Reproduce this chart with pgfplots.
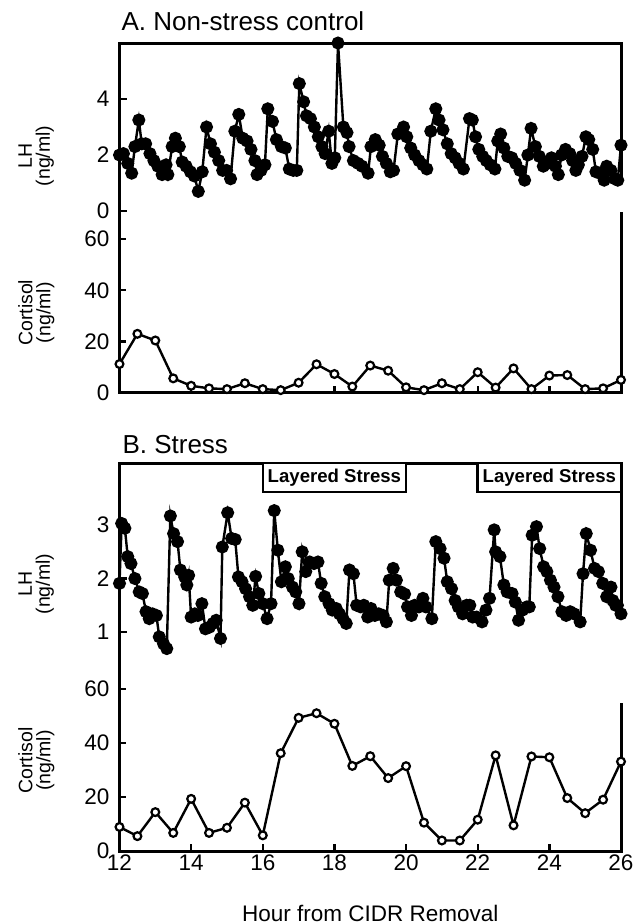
\documentclass[border=0pt]{standalone}
\usepackage{fontspec}
\setmainfont{Liberation Sans}
\usepackage{pgfplots}
\usepackage{pgfplotstable}
\pgfplotsset{compat=1.18}

% LH, panel A (non-stress control)
\pgfplotstableread{
x y
12.00 2.00
12.11 2.05
12.23 1.70
12.34 1.35
12.43 2.30
12.54 3.25
12.62 2.40
12.73 2.40
12.85 2.05
12.96 1.80
13.07 1.60
13.19 1.30
13.30 1.65
13.35 1.30
13.47 2.30
13.56 2.60
13.67 2.30
13.75 1.75
13.86 1.60
13.98 1.40
14.09 1.25
14.20 0.70
14.31 1.40
14.43 3.00
14.54 2.40
14.65 2.10
14.77 1.80
14.88 1.45
14.99 1.45
15.10 1.15
15.22 2.85
15.33 3.45
15.44 2.60
15.56 2.50
15.67 2.20
15.78 1.80
15.84 1.30
15.95 1.45
16.06 1.65
16.14 3.65
16.27 3.20
16.38 2.55
16.52 2.30
16.63 2.25
16.74 1.50
16.85 1.45
16.95 1.45
17.02 4.55
17.14 3.90
17.22 3.40
17.33 3.30
17.44 3.00
17.55 2.65
17.65 2.30
17.74 2.05
17.84 2.85
17.93 1.70
18.01 1.90
18.10 6.00
18.25 3.00
18.35 2.80
18.41 2.30
18.53 1.80
18.66 1.70
18.77 1.60
18.94 1.35
19.02 2.30
19.14 2.55
19.25 2.35
19.34 1.95
19.45 1.70
19.56 1.40
19.65 1.45
19.77 2.75
19.93 3.00
20.02 2.65
20.13 2.25
20.24 2.00
20.36 1.80
20.47 1.65
20.58 1.50
20.69 2.85
20.83 3.65
20.92 3.25
21.03 2.90
21.15 2.40
21.26 2.05
21.37 1.90
21.48 1.70
21.60 1.50
21.77 3.30
21.85 3.25
21.94 2.65
22.03 2.20
22.14 1.95
22.24 1.80
22.35 1.65
22.48 1.50
22.56 2.50
22.64 2.75
22.73 2.25
22.84 1.95
22.95 1.90
23.06 1.70
23.18 1.45
23.31 1.10
23.40 2.00
23.49 2.95
23.61 2.30
23.72 1.95
23.83 1.60
23.95 1.70
24.06 1.90
24.17 1.60
24.25 1.30
24.34 2.00
24.45 2.20
24.57 2.05
24.65 1.80
24.74 1.45
24.81 1.65
24.91 1.95
25.02 2.65
25.10 2.55
25.21 2.20
25.30 1.40
25.41 1.35
25.53 1.10
25.60 1.60
25.72 1.45
25.83 1.15
25.91 1.10
26.00 2.35
}\lhA

% cortisol, panel A
\pgfplotstableread{
x y
12.0 11.2
12.5 23.0
13.0 20.4
13.5 5.6
14.0 2.7
14.5 1.7
15.0 1.4
15.5 3.7
16.0 1.4
16.5 1.0
17.0 3.9
17.5 11.1
18.0 7.3
18.5 2.4
19.0 10.6
19.5 8.6
20.0 2.1
20.5 1.0
21.0 3.7
21.5 1.4
22.0 8.0
22.5 2.0
23.0 9.5
23.5 1.4
24.0 6.7
24.5 6.9
25.0 1.4
25.5 1.7
26.0 5.0
}\coA

% LH, panel B (stress)
\pgfplotstableread{
x y
12.00 1.91
12.06 3.03
12.15 2.94
12.23 2.41
12.32 2.28
12.43 2.00
12.55 1.75
12.64 1.72
12.74 1.38
12.83 1.25
12.92 1.34
13.03 1.31
13.11 0.91
13.23 0.78
13.32 0.69
13.42 3.17
13.51 2.84
13.62 2.69
13.70 2.16
13.82 2.03
13.88 1.88
13.93 2.06
14.00 1.28
14.10 1.34
14.19 1.31
14.30 1.53
14.40 1.06
14.51 1.09
14.61 1.16
14.70 1.22
14.82 0.88
14.87 2.59
15.02 3.23
15.13 2.75
15.23 2.73
15.32 2.03
15.42 1.94
15.52 1.81
15.63 1.66
15.72 1.50
15.80 2.04
15.89 1.72
16.00 1.53
16.12 1.25
16.23 1.53
16.32 3.27
16.42 2.53
16.52 1.94
16.63 2.22
16.71 2.00
16.83 1.84
16.92 1.75
17.01 1.53
17.10 2.50
17.20 2.13
17.31 2.31
17.43 2.28
17.54 2.31
17.63 1.91
17.73 1.66
17.85 1.53
17.94 1.41
18.05 1.44
18.14 1.34
18.24 1.25
18.33 1.16
18.42 2.16
18.53 2.09
18.62 1.50
18.73 1.47
18.82 1.50
18.93 1.28
19.02 1.44
19.13 1.31
19.24 1.34
19.36 1.31
19.45 1.19
19.53 1.97
19.64 2.19
19.73 1.97
19.85 1.75
19.96 1.71
20.04 1.47
20.15 1.31
20.24 1.50
20.36 1.47
20.47 1.63
20.55 1.47
20.72 1.25
20.83 2.69
20.95 2.56
21.06 2.38
21.15 1.94
21.27 1.81
21.37 1.59
21.46 1.47
21.58 1.34
21.69 1.50
21.78 1.50
21.86 1.28
21.97 1.28
22.12 1.19
22.23 1.41
22.33 1.63
22.46 2.91
22.50 2.50
22.62 2.41
22.73 1.88
22.82 1.75
22.96 1.72
23.05 1.56
23.14 1.22
23.25 1.41
23.37 1.47
23.44 1.47
23.52 2.81
23.64 2.97
23.73 2.56
23.84 2.22
23.93 2.13
24.03 1.97
24.13 1.84
24.24 1.66
24.35 1.38
24.47 1.31
24.58 1.38
24.69 1.34
24.86 1.19
24.94 2.09
25.03 2.84
25.15 2.53
25.26 2.19
25.37 2.13
25.49 1.91
25.60 1.66
25.72 1.84
25.77 1.59
25.85 1.50
25.90 1.50
26.00 1.34
}\lhB

% cortisol, panel B
\pgfplotstableread{
x y
12.0 8.9
12.5 5.5
13.0 14.4
13.5 6.7
14.0 19.3
14.5 6.7
15.0 8.6
15.5 17.9
16.0 5.8
16.5 36.2
17.0 49.3
17.5 51.0
18.0 47.1
18.5 31.5
19.0 35.1
19.5 27.0
20.0 31.4
20.5 10.5
21.0 3.9
21.5 3.9
22.0 11.6
22.5 35.4
23.0 9.5
23.5 35.0
24.0 34.7
24.5 19.6
25.0 14.0
25.5 19.0
26.0 33.1
}\coB

\pgfplotsset{
  panel/.style={
    scale only axis, width=501.5pt,
    xmin=12, xmax=26,
    axis line style={draw=none},
    clip=false,
    tick align=inside,
    major tick length=7pt,
    tick style={line width=2.4pt, black},
    ytick pos=left, xtick pos=bottom,
    font=\fontsize{22.5}{26}\selectfont,
    /pgf/number format/assume math mode=true,
    yticklabel style={inner sep=0pt, xshift=-10pt},
    xticklabel style={inner sep=0pt, yshift=-4pt},
    ylabel style={at={(axis description cs:-0.166,#1)}, anchor=center,
      align=center, font=\fontsize{19.5}{18}\selectfont},
  },
  lh/.style={black, line width=2.4pt, mark=*, mark size=5.3pt},
  co/.style={black, line width=2.4pt, mark=*, mark size=3.9pt,
    mark options={fill=white, line width=2.2pt}},
}

\begin{document}
\begin{tikzpicture}
\useasboundingbox (0pt,0pt) rectangle (634pt,-924pt);

% frames
\draw[line width=3pt] (621pt,-177pt) -- (621pt,-43pt) -- (119.5pt,-43pt)
  -- (119.5pt,-392.7pt) -- (621pt,-392.7pt) -- (621pt,-212pt);
\draw[line width=3pt] (621pt,-613pt) -- (621pt,-463pt) -- (119.5pt,-463pt)
  -- (119.5pt,-851pt) -- (621pt,-851pt) -- (621pt,-703pt);

\node[anchor=base west, font=\fontsize{26}{30}\selectfont] at (118pt,-30pt) {A. Non-stress control};
\node[anchor=base west, font=\fontsize{26}{30}\selectfont] at (119pt,-453pt) {B. Stress};

% panel A, LH
\begin{axis}[panel=0.38, at={(119.5pt,-225pt)}, anchor=south west, height=182pt,
  ymin=-0.5, ymax=6, ytick={0,2,4}, xtick=\empty,
  ylabel={LH\\(ng/ml)}]
\addplot[lh] table {\lhA};
\end{axis}

% panel A, cortisol
\begin{axis}[panel=0.477, at={(119.5pt,-392.7pt)}, anchor=south west, height=167.7pt,
  ymin=0, ymax=65.5, ytick={0,20,40,60}, xtick={12,14,...,26}, xticklabels={},
  ylabel={Cortisol\\(ng/ml)}]
\addplot[co] table {\coA};
\end{axis}

% panel B, LH
\begin{axis}[panel=0.415, at={(119.5pt,-670pt)}, anchor=south west, height=207pt,
  ymin=0.29, ymax=4.16, ytick={1,2,3}, xtick=\empty,
  ylabel={LH\\(ng/ml)}]
\draw[line width=2.5pt, fill=white] (axis cs:16,4.16) rectangle (axis cs:20,3.62);
\draw[line width=2.5pt, fill=white] (axis cs:22,4.16) rectangle (axis cs:26,3.62);
\node[font=\bfseries\fontsize{18.6}{20}\selectfont] at (axis cs:18,3.885) {Layered Stress};
\node[font=\bfseries\fontsize{18.6}{20}\selectfont] at (axis cs:24,3.885) {Layered Stress};
\addplot[lh] table {\lhB};
\end{axis}

% panel B, cortisol
\begin{axis}[panel=0.5, at={(119.5pt,-851pt)}, anchor=south west, height=181pt,
  ymin=0, ymax=67, ytick={0,20,40,60}, xtick={12,14,...,26},
  ylabel={Cortisol\\(ng/ml)},
  xlabel={Hour from CIDR Removal},
  xlabel style={at={(axis description cs:0.5,0)}, anchor=base, yshift=-70pt,
    font=\fontsize{22.5}{26}\selectfont}]
\addplot[co] table {\coB};
\end{axis}
\end{tikzpicture}
\end{document}
